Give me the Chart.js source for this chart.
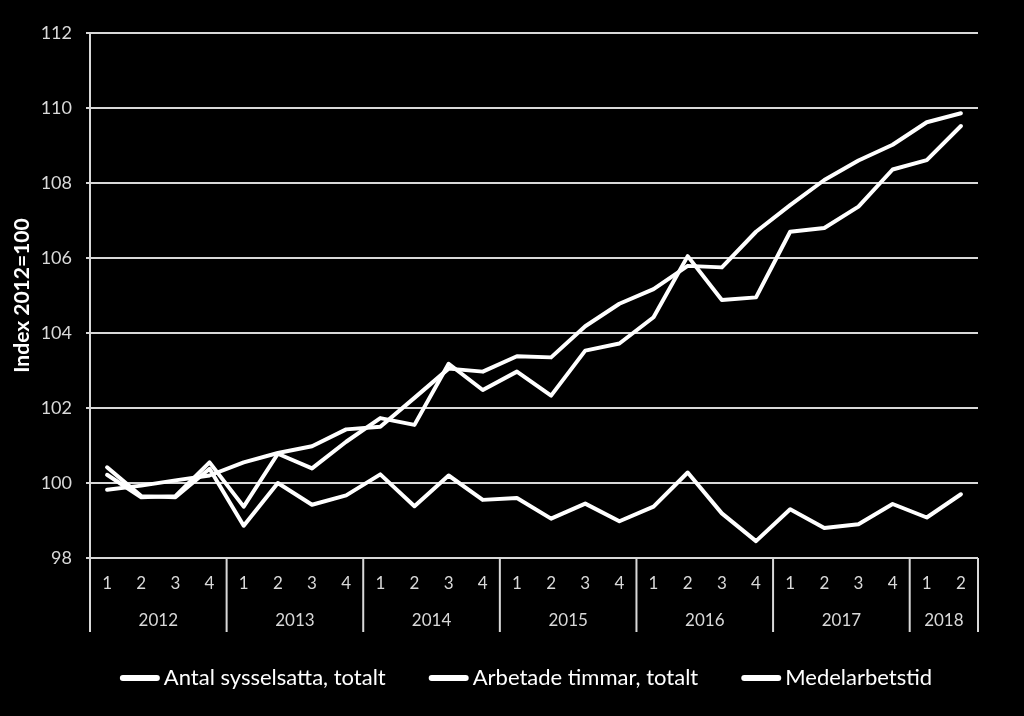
<!DOCTYPE html>
<html>
<head>
<meta charset="utf-8">
<script src="https://cdn.jsdelivr.net/npm/chart.js@4.4.0/dist/chart.umd.min.js"></script>
<style>
html,body{margin:0;padding:0;background:#000;}
#wrap{width:1024px;height:716px;}
</style>
</head>
<body>
<div id="wrap"><canvas id="c" width="1024" height="716"></canvas></div>
<script>
// ---- data ----
const years = ['2012','2013','2014','2015','2016','2017','2018'];
const quartersPerYear = [4,4,4,4,4,4,2];
const quarterLabels = ['1','2','3','4','1','2','3','4','1','2','3','4','1','2','3','4','1','2','3','4','1','2','3','4','1','2'];

const antalSysselsatta = [99.82,99.93,100.07,100.20, 100.55,100.80,100.98,101.43, 101.50,102.27,103.05,102.97, 103.38,103.35,104.18,104.78, 105.17,105.79,105.75,106.70, 107.41,108.08,108.60,109.02, 109.62,109.86];
const arbetadeTimmar   = [100.22,99.62,99.65,100.55, 99.37,100.78,100.39,101.10, 101.73,101.55,103.18,102.48, 102.97,102.33,103.53,103.72, 104.42,106.05,104.88,104.95, 106.70,106.80,107.37,108.36, 108.61,109.52];
const medelarbetstid   = [100.42,99.65,99.62,100.38, 98.86,100.00,99.42,99.67, 100.23,99.38,100.20,99.55, 99.60,99.05,99.45,98.98, 99.37,100.28,99.19,98.45, 99.30,98.80,98.90,99.44, 99.08,99.70];

const seriesNames = ['Antal sysselsatta, totalt','Arbetade timmar, totalt','Medelarbetstid'];
const yMin = 98, yMax = 112, yStep = 2;
const yTitle = 'Index 2012=100';

const FONT = 'Lato, "Open Sans", sans-serif';

const yearAxisPlugin = {
  id: 'yearAxis',
  afterDraw(chart) {
    const ctx = chart.ctx;
    const x = chart.scales.x;
    const area = chart.chartArea;
    const bottom = area.bottom + 74;
    ctx.save();
    ctx.strokeStyle = '#d9d9d9';
    ctx.lineWidth = 2;
    let idx = 0;
    const bounds = [area.left];
    quartersPerYear.forEach(n => {
      idx += n;
      if (idx < quarterLabels.length) {
        bounds.push((x.getPixelForValue(idx - 1) + x.getPixelForValue(idx)) / 2);
      } else {
        bounds.push(area.right);
      }
    });
    ctx.beginPath();
    ctx.moveTo(area.left, area.top);
    ctx.lineTo(area.left, bottom);
    bounds.forEach(b => {
      ctx.moveTo(b, area.bottom);
      ctx.lineTo(b, bottom);
    });
    ctx.stroke();
    ctx.fillStyle = '#d9d9d9';
    ctx.font = '17px ' + FONT;
    ctx.textAlign = 'center';
    ctx.textBaseline = 'middle';
    years.forEach((yr, i) => {
      ctx.fillText(yr, (bounds[i] + bounds[i + 1]) / 2, area.bottom + 63);
    });

    // legend
    const legY = 678, sample = 40, gapST = 4, gapItems = 43, centerX = 526;
    ctx.font = '22px ' + FONT;
    ctx.textAlign = 'left';
    const items = chart.data.datasets.map(d => ({ label: d.label, color: d.borderColor, w: ctx.measureText(d.label).width }));
    const total = items.reduce((s, it) => s + sample + gapST + it.w, 0) + gapItems * (items.length - 1);
    let cx = centerX - total / 2;
    items.forEach(it => {
      ctx.strokeStyle = it.color;
      ctx.lineWidth = 6;
      ctx.lineCap = 'round';
      ctx.beginPath();
      ctx.moveTo(cx + 3, legY);
      ctx.lineTo(cx + sample - 3, legY);
      ctx.stroke();
      ctx.fillStyle = '#ffffff';
      ctx.fillText(it.label, cx + sample + gapST, legY);
      cx += sample + gapST + it.w + gapItems;
    });
    ctx.restore();
  }
};

const ds = (label, data) => ({
  label, data,
  borderColor: '#ffffff',
  backgroundColor: '#ffffff',
  borderWidth: 4,
  pointRadius: 0,
  pointHoverRadius: 0,
  tension: 0,
  borderJoinStyle: 'round',
  borderCapStyle: 'round',
  fill: false
});

new Chart(document.getElementById('c'), {
  type: 'line',
  data: {
    labels: quarterLabels,
    datasets: [
      ds(seriesNames[0], antalSysselsatta),
      ds(seriesNames[1], arbetadeTimmar),
      ds(seriesNames[2], medelarbetstid)
    ]
  },
  options: {
    responsive: false,
    animation: false,
    layout: { padding: { left: 0, right: 46, top: 33, bottom: 79 } },
    plugins: {
      legend: { display: false },
      tooltip: { enabled: false }
    },
    scales: {
      x: {
        type: 'category',
        offset: true,
        grid: { display: false, drawTicks: false },
        border: { display: false },
        ticks: {
          color: '#d9d9d9',
          font: { family: FONT, size: 17 },
          padding: 15,
          maxRotation: 0,
          autoSkip: false
        },
        afterFit(scale) { scale.height = 79; }
      },
      y: {
        min: yMin, max: yMax,
        grid: { color: '#d9d9d9', lineWidth: 2, drawTicks: true, tickLength: 4 },
        border: { display: true, color: '#d9d9d9', width: 2 },
        ticks: {
          stepSize: yStep,
          color: '#d9d9d9',
          font: { family: FONT, size: 18 },
          padding: 14
        },
        title: {
          display: true,
          text: yTitle,
          color: '#ffffff',
          font: { family: FONT, size: 21, weight: 'bold' },
          padding: { top: 10, bottom: 0 }
        },
        afterFit(scale) { scale.width = 90; }
      }
    }
  },
  plugins: [yearAxisPlugin]
});
</script>
</body>
</html>
